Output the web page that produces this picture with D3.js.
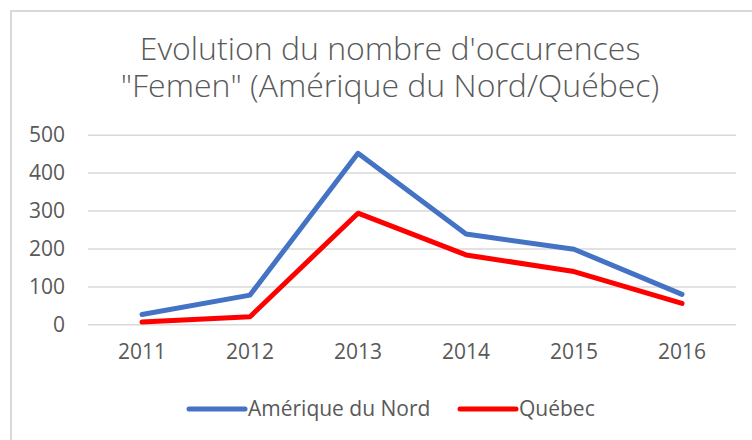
<!DOCTYPE html>
<html>
<head>
<meta charset="utf-8">
<script src="https://cdn.jsdelivr.net/npm/d3@7"></script>
<style>
  html, body { margin: 0; padding: 0; background: #fff; }
  svg { display: block; font-family: "Segoe UI", "Open Sans", sans-serif; }
</style>
</head>
<body>
<div id="chart"></div>
<script>
const years = ['2011', '2012', '2013', '2014', '2015', '2016'];
const ameriqueNord = [26, 77, 451, 238, 198, 79];
const quebec = [6, 20, 293, 183, 139, 55];
const yTicks = [0, 100, 200, 300, 400, 500];
const titleLines = ["Evolution du nombre d'occurences", '"Femen" (Amérique du Nord/Québec)'];
const seriesNames = ['Amérique du Nord', 'Québec'];

const width = 752, height = 440;
const margin = { top: 134.7, right: 16, bottom: 115.7, left: 88 };
const textColor = '#595959';
const colors = ['#4472C4', '#FF0000'];

const svg = d3.select('#chart').append('svg')
  .attr('width', width)
  .attr('height', height);

// chart frame
svg.append('rect')
  .attr('x', 11).attr('y', 11)
  .attr('width', width).attr('height', height)
  .attr('fill', '#fff')
  .attr('stroke', '#d9d9d9')
  .attr('stroke-width', 2);

// title
svg.append('g')
  .selectAll('text')
  .data(titleLines)
  .enter()
  .append('text')
  .attr('x', 390)
  .attr('y', (d, i) => 60 + i * 37)
  .attr('text-anchor', 'middle')
  .attr('fill', textColor)
  .attr('font-size', 32)
  .attr('font-weight', 300)
  .text(d => d);

const x = d3.scaleBand()
  .domain(years)
  .range([margin.left, width - margin.right]);

const y = d3.scaleLinear()
  .domain([0, 500])
  .range([height - margin.bottom, margin.top]);

// gridlines
svg.append('g')
  .attr('transform', `translate(${margin.left},0)`)
  .call(d3.axisLeft(y).tickValues(yTicks).tickSize(-(width - margin.left - margin.right)).tickFormat(''))
  .call(g => g.select('.domain').remove())
  .call(g => g.selectAll('line').attr('stroke', '#d9d9d9').attr('stroke-width', 1.5));

// y labels
svg.append('g')
  .attr('transform', `translate(${margin.left},0)`)
  .call(d3.axisLeft(y).tickValues(yTicks).tickSize(0).tickPadding(23))
  .call(g => g.select('.domain').remove())
  .call(g => g.selectAll('text')
    .attr('fill', textColor)
    .attr('font-size', 21)
    .attr('font-family', '"Segoe UI", "Open Sans", sans-serif'));

// x labels
svg.append('g')
  .attr('transform', `translate(0,${height - margin.bottom})`)
  .call(d3.axisBottom(x).tickSize(0).tickPadding(20))
  .call(g => g.select('.domain').remove())
  .call(g => g.selectAll('text')
    .attr('fill', textColor)
    .attr('font-size', 21)
    .attr('font-family', '"Segoe UI", "Open Sans", sans-serif'));

const line = d3.line()
  .x((d, i) => x(years[i]) + x.bandwidth() / 2)
  .y(d => y(d));

[ameriqueNord, quebec].forEach((vals, i) => {
  svg.append('path')
    .datum(vals)
    .attr('fill', 'none')
    .attr('stroke', colors[i])
    .attr('stroke-width', 5)
    .attr('stroke-linejoin', 'round')
    .attr('stroke-linecap', 'round')
    .attr('d', line);
});

// legend
const legendX = [189, 460];
const legend = svg.append('g')
  .selectAll('g')
  .data(seriesNames)
  .enter()
  .append('g')
  .attr('transform', (d, i) => `translate(${legendX[i]},409)`);

legend.append('line')
  .attr('x1', 0).attr('x2', 56)
  .attr('stroke', (d, i) => colors[i])
  .attr('stroke-width', 5)
  .attr('stroke-linecap', 'round');

legend.append('text')
  .attr('x', 59)
  .attr('dy', '0.35em')
  .attr('fill', textColor)
  .attr('font-size', 21)
  .text(d => d);
</script>
</body>
</html>
